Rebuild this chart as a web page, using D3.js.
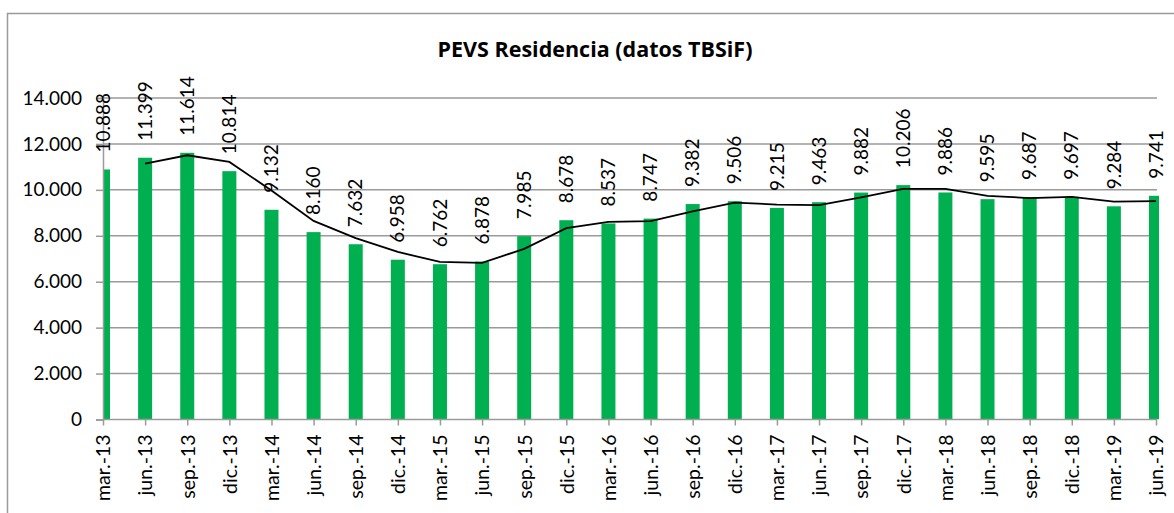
<!DOCTYPE html>
<html>
<head>
<meta charset="utf-8">
<script src="https://cdn.jsdelivr.net/npm/d3@7"></script>
<style>
  body { margin: 0; background: #fff; }
  text { font-family: Lato, "Open Sans", sans-serif; fill: #000; }
</style>
</head>
<body>
<div id="wrapper"></div>
<script>
// quarters shown on the x axis
const periods = [
  "mar.-13", "jun.-13", "sep.-13", "dic.-13",
  "mar.-14", "jun.-14", "sep.-14", "dic.-14",
  "mar.-15", "jun.-15", "sep.-15", "dic.-15",
  "mar.-16", "jun.-16", "sep.-16", "dic.-16",
  "mar.-17", "jun.-17", "sep.-17", "dic.-17",
  "mar.-18", "jun.-18", "sep.-18", "dic.-18",
  "mar.-19", "jun.-19"
]

// bar values (PEVS residencia)
const pevs = [
  10888, 11399, 11614, 10814,
  9132, 8160, 7632, 6958,
  6762, 6878, 7985, 8678,
  8537, 8747, 9382, 9506,
  9215, 9463, 9882, 10206,
  9886, 9595, 9687, 9697,
  9284, 9741
]

// black trend line (starts at jun.-13)
const trend = [
  null, 11144, 11507, 11214,
  9973, 8646, 7896, 7295,
  6860, 6820, 7432, 8332,
  8608, 8642, 9065, 9444,
  9361, 9339, 9673, 10044,
  10046, 9741, 9641, 9692,
  9491, 9513
]

const yTicks = [0, 2000, 4000, 6000, 8000, 10000, 12000, 14000]

const width = 1174
const height = 513
const plot = { left: 103, right: 1156, top: 98, bottom: 419.5 }

const svg = d3.select("#wrapper")
  .append("svg")
  .attr("width", width)
  .attr("height", height)

// outer chart frame
svg.append("path")
  .attr("d", `M7.5,${height} V13.5 H${width}`)
  .attr("fill", "none")
  .attr("stroke", "#9a9a9a")
  .attr("stroke-width", 1.5)

svg.append("text")
  .attr("x", 595)
  .attr("y", 57)
  .attr("text-anchor", "middle")
  .style("font-family", "'Open Sans', sans-serif")
  .style("font-size", "21.5px")
  .style("font-weight", "bold")
  .text("PEVS Residencia (datos TBSiF)")

const xScale = d3.scalePoint()
  .domain(periods)
  .range([plot.left, plot.right])

const yScale = d3.scaleLinear()
  .domain([0, 14000])
  .range([plot.bottom, plot.top])

const fmt = (d) => d3.format(",")(d).replace(/,/g, ".")

// gridlines
svg.append("g")
  .selectAll("line")
  .data(yTicks.filter((d) => d > 0))
  .join("line")
  .attr("x1", plot.left)
  .attr("x2", plot.right + 1)
  .attr("y1", (d) => yScale(d))
  .attr("y2", (d) => yScale(d))
  .attr("stroke", "#9a9a9a")
  .attr("stroke-width", 1.5)

// bars, clipped to the plot area (first and last are cut in half)
svg.append("clipPath")
  .attr("id", "plot-clip")
  .append("rect")
  .attr("x", plot.left)
  .attr("y", 0)
  .attr("width", plot.right - plot.left + 3)
  .attr("height", plot.bottom)

const barWidth = 14
svg.append("g")
  .attr("clip-path", "url(#plot-clip)")
  .selectAll("rect")
  .data(pevs)
  .join("rect")
  .attr("x", (d, i) => xScale(periods[i]) - barWidth / 2)
  .attr("y", (d) => yScale(d))
  .attr("width", barWidth)
  .attr("height", (d) => plot.bottom - yScale(d))
  .attr("fill", "#00b050")

// y axis
const yAxis = svg.append("g")
  .attr("transform", `translate(${plot.left},0)`)
  .call(d3.axisLeft(yScale).tickValues(yTicks).tickSize(7).tickPadding(14).tickFormat(fmt))
yAxis.select(".domain").attr("stroke", "#9a9a9a").attr("stroke-width", 1.5)
yAxis.selectAll(".tick line").attr("stroke", "#9a9a9a").attr("stroke-width", 1.5)
yAxis.selectAll(".tick text")
  .style("font-size", "19px")
  .style("font-family", "Lato, sans-serif")
  .attr("fill", "#000")

// x axis
const xAxis = svg.append("g")
  .attr("transform", `translate(0,${plot.bottom})`)
  .call(d3.axisBottom(xScale).tickSize(6).tickSizeOuter(0))
xAxis.select(".domain")
  .attr("stroke", "#9a9a9a")
  .attr("stroke-width", 1.5)
  .attr("d", `M${plot.left},0H${plot.right + 1}`)
xAxis.selectAll(".tick line").attr("stroke", "#9a9a9a").attr("stroke-width", 1.5)
xAxis.selectAll(".tick text")
  .attr("transform", "rotate(-90)")
  .attr("x", -15)
  .attr("y", 0)
  .attr("dy", "0.35em")
  .attr("text-anchor", "end")
  .style("font-size", "19.5px")
  .style("font-family", "Lato, sans-serif")
  .attr("fill", "#000")

// trend line
const lineGenerator = d3.line()
  .defined((d) => d != null)
  .x((d, i) => xScale(periods[i]))
  .y((d) => yScale(d))

svg.append("path")
  .attr("d", lineGenerator(trend))
  .attr("fill", "none")
  .attr("stroke", "#000")
  .attr("stroke-width", 1.8)

// data labels above each bar, rotated
svg.append("g")
  .selectAll("text")
  .data(pevs)
  .join("text")
  .attr("transform", (d, i) =>
    `translate(${xScale(periods[i])},${yScale(d) - 17}) rotate(-90)`)
  .attr("dy", "0.35em")
  .attr("text-anchor", "start")
  .style("font-size", "19px")
  .text((d) => fmt(d))
</script>
</body>
</html>
